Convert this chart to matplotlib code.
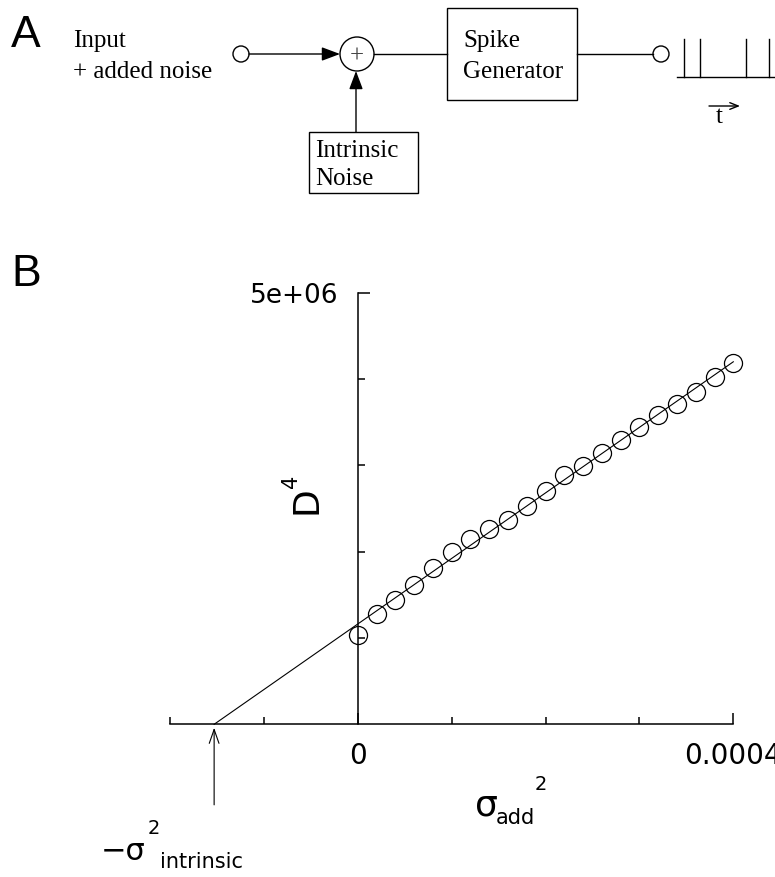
import numpy as np
import matplotlib
matplotlib.use("Agg")
import matplotlib.pyplot as plt
from matplotlib.patches import Circle, Rectangle

# ---------------- data (panel B) ----------------
sigma_add2 = [0.0, 0.00002, 0.00004, 0.00006, 0.00008, 0.00010, 0.00012,
              0.00014, 0.00016, 0.00018, 0.00020, 0.00022, 0.00024, 0.00026,
              0.00028, 0.00030, 0.00032, 0.00034, 0.00036, 0.00038, 0.00040]
D4 = [1.035e6, 1.275e6, 1.44e6, 1.614e6, 1.808e6, 2.0e6, 2.144e6, 2.26e6,
      2.367e6, 2.53e6, 2.707e6, 2.892e6, 2.997e6, 3.147e6, 3.289e6, 3.45e6,
      3.58e6, 3.709e6, 3.854e6, 4.028e6, 4.183e6]
x_major = [0.0, 0.0004]
x_major_labels = ["0", "0.0004"]
x_minor = [-0.0002, -0.0001, 0.0001, 0.0002, 0.0003]
y_major = [5e6]
y_major_labels = ["5e+06"]
y_minor = [1e6, 2e6, 3e6, 4e6]
x_limits = (-0.0002, 0.0004)
y_limits = (0.0, 5e6)

# spike train in panel A (diagram positions)
spike_x = [684, 700, 746, 769]

plt.rcParams['font.family'] = ['DejaVu Sans']
fig = plt.figure(figsize=(7.75, 8.77), dpi=100)

# ---------------- panel B ----------------
W, H = 775.0, 877.0
ax = fig.add_axes([170 / W, (H - 724.3) / H, 563.3 / W, 431.5 / H])
ax.set_xlim(*x_limits)
ax.set_ylim(*y_limits)
for s in ("top", "right"):
    ax.spines[s].set_visible(False)
ax.spines["left"].set_position(("data", 0))
for s in ("left", "bottom"):
    ax.spines[s].set_linewidth(1.1)

x = np.array(sigma_add2)
y = np.array(D4)
slope, intercept = np.polyfit(x, y, 1)
x0 = -intercept / slope
ax.plot([x0, x_limits[1]], [0, slope * x_limits[1] + intercept],
        color="black", lw=0.8, clip_on=False, zorder=2)
ax.plot(x, y, "o", ms=13, mfc="none", mec="black", mew=0.9,
        clip_on=False, zorder=3)

ax.set_xticks(x_major)
ax.set_xticklabels(x_major_labels)
ax.set_xticks(x_minor, minor=True)
ax.set_yticks(y_major)
ax.set_yticklabels(y_major_labels)
ax.set_yticks(y_minor, minor=True)
ax.tick_params(axis="x", which="major", direction="in", length=8, width=1.1,
               labelsize=20, pad=13)
ax.tick_params(axis="x", which="minor", direction="in", length=5, width=1.1)
ax.tick_params(axis="y", which="major", direction="in", length=8.5, width=1.1,
               labelsize=19, pad=14)
ax.tick_params(axis="y", which="minor", direction="in", length=5, width=1.1)

# arrow marking -sigma^2 intrinsic
ax.annotate("", xy=(x0, 0), xycoords="data", xytext=(0, -58),
            textcoords="offset points",
            arrowprops=dict(arrowstyle="->, head_length=1.0, head_width=0.35",
                            lw=0.8, color="black", shrinkA=0, shrinkB=2.5,
                            mutation_scale=10))

# ---------------- overlay in pixel coords ----------------
ov = fig.add_axes([0, 0, 1, 1], zorder=5)
ov.set_xlim(0, W)
ov.set_ylim(H, 0)
ov.axis("off")
ov.patch.set_visible(False)

serif = "Liberation Serif"
lw = 1.0

# panel labels
ov.text(11, 47, "A", fontsize=32, family="Liberation Sans", va="baseline")
ov.text(11, 286, "B", fontsize=32, family="Liberation Sans", va="baseline")

# panel A diagram
ov.text(73, 47, "Input", fontsize=18, family=serif, va="baseline")
ov.text(73, 78, "+ added noise", fontsize=18, family=serif, va="baseline")
ov.add_patch(Circle((241, 54), 8, fill=False, lw=lw, ec="black"))
ov.annotate("", xy=(340, 54), xytext=(249, 54),
            arrowprops=dict(arrowstyle="-|>, head_length=0.8, head_width=0.3",
                            lw=lw, color="black", shrinkA=0, shrinkB=0,
                            mutation_scale=14))
ov.add_patch(Circle((357, 54), 17, fill=False, lw=lw, ec="black"))
ov.text(357, 57, "+", fontsize=18, family=serif, ha="center", va="center",
        color="#444444")
ov.plot([374, 447], [54, 54], color="black", lw=lw)
ov.add_patch(Rectangle((447, 8), 130, 92, fill=False, lw=lw, ec="black"))
ov.text(463, 47, "Spike", fontsize=18, family=serif, va="baseline")
ov.text(463, 78, "Generator", fontsize=18, family=serif, va="baseline")
ov.plot([577, 653], [54, 54], color="black", lw=lw)
ov.add_patch(Circle((661, 54), 8, fill=False, lw=lw, ec="black"))
ov.plot([677, 775], [77, 77], color="black", lw=lw)
for sx in spike_x:
    ov.plot([sx, sx], [39, 77], color="black", lw=lw)
ov.annotate("", xy=(740, 106), xytext=(709, 106),
            arrowprops=dict(arrowstyle="->, head_length=0.5, head_width=0.2",
                            lw=lw, color="black", shrinkA=0, shrinkB=0,
                            mutation_scale=12))
ov.text(719, 123, "t", fontsize=18, family=serif, ha="center", va="baseline")
ov.add_patch(Rectangle((309, 132), 109, 61, fill=False, lw=lw, ec="black"))
ov.text(315, 157, "Intrinsic", fontsize=18, family=serif, va="baseline")
ov.text(315, 185, "Noise", fontsize=18, family=serif, va="baseline")
ov.annotate("", xy=(356, 71), xytext=(356, 132),
            arrowprops=dict(arrowstyle="-|>, head_length=0.8, head_width=0.3",
                            lw=lw, color="black", shrinkA=0, shrinkB=0,
                            mutation_scale=14))

# panel B axis labels
ov.text(306, 500, "D", fontsize=26, rotation=90, ha="center", va="center")
ov.text(291, 481, "4", fontsize=15, rotation=90, ha="center", va="center")
ov.text(486, 815, "\u03c3", fontsize=26, ha="center", va="baseline")
ov.text(496, 824, "add", fontsize=15, ha="left", va="baseline")
ov.text(541, 784, "2", fontsize=14, ha="center", va="center")
ov.text(123, 860, "\u2212\u03c3", fontsize=22, ha="center", va="baseline")
ov.text(154, 829, "2", fontsize=14, ha="center", va="center")
ov.text(160, 868, "intrinsic", fontsize=15, ha="left", va="baseline")

fig.savefig("out.png", dpi=100)
